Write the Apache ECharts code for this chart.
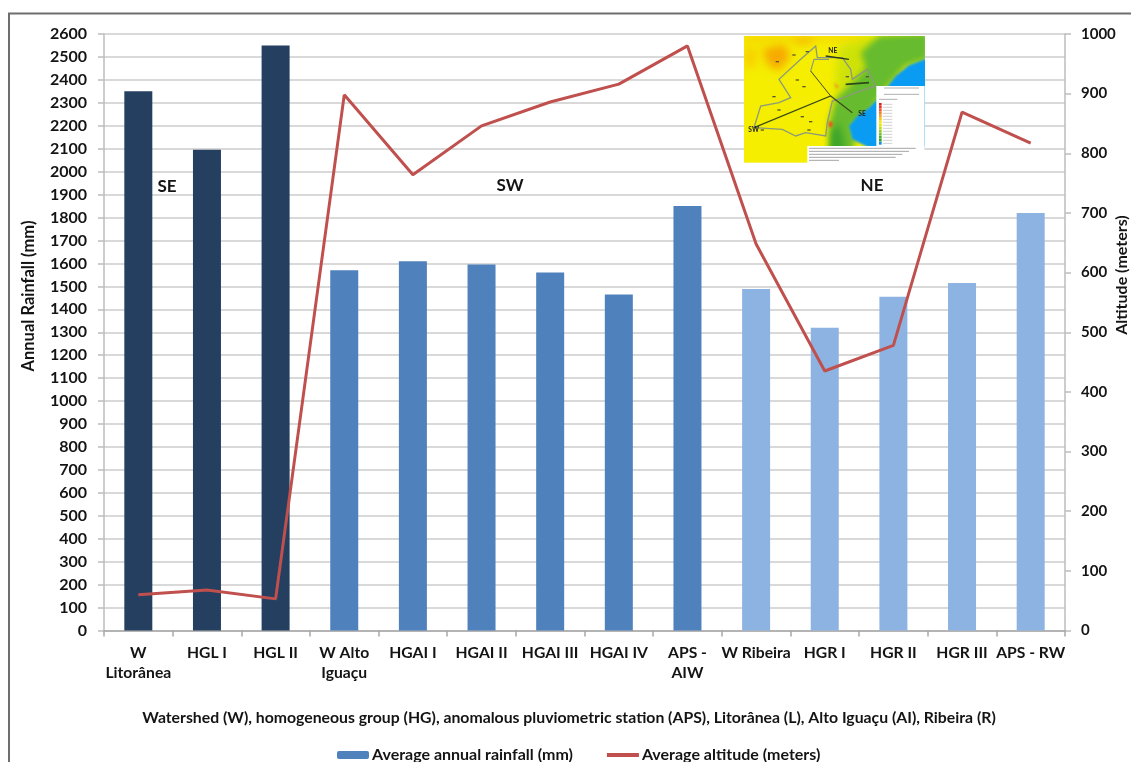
<!DOCTYPE html>
<html><head><meta charset="utf-8">
<style>html,body{margin:0;padding:0;background:#fff}#c{width:1131px;height:762px;filter:blur(0.45px)}</style>
<script src="https://cdn.jsdelivr.net/npm/echarts@6/dist/echarts.min.js"></script>
</head><body><div id="c"></div>
<script>
const categories = ['W\nLitorânea','HGL I','HGL II','W Alto\nIguaçu','HGAI I','HGAI II','HGAI III','HGAI IV','APS -\nAIW','W Ribeira','HGR I','HGR II','HGR III','APS - RW'];
const rainfall = [2350,2095,2550,1570,1610,1595,1560,1465,1850,1488,1320,1455,1515,1820];
const altitude = [60,68,53,898,764,846,886,916,980,648,435,478,869,817];
const barColors = ['#243f60','#243f60','#243f60','#4f81bd','#4f81bd','#4f81bd','#4f81bd','#4f81bd','#4f81bd','#8db3e2','#8db3e2','#8db3e2','#8db3e2','#8db3e2'];
const FONT = 'Lato';
const INK = '#141414';

function poly(ctx, pts, fill){ctx.beginPath();pts.forEach((p,i)=>i?ctx.lineTo(p[0],p[1]):ctx.moveTo(p[0],p[1]));ctx.closePath();ctx.fillStyle=fill;ctx.fill();}
function path(ctx, pts, col, w){ctx.beginPath();pts.forEach((p,i)=>i?ctx.lineTo(p[0],p[1]):ctx.moveTo(p[0],p[1]));ctx.strokeStyle=col;ctx.lineWidth=w;ctx.stroke();}
function buildMap(){
  const cv=document.createElement('canvas');cv.width=181;cv.height=127;
  const c=cv.getContext('2d');
  c.scale(1/3,1/3);c.translate(-45,-30);
  c.fillStyle='#f5ee00';c.fillRect(45,30,540,380);
  c.filter='blur(4px)';
  poly(c,[[45,30],[420,30],[400,45],[200,42],[45,50]],'#f7cf00');
  poly(c,[[100,70],[165,55],[185,90],[150,135],[115,115]],'#f7a800');
  poly(c,[[45,60],[90,70],[80,120],[45,130]],'#f7d000');
  poly(c,[[190,35],[260,35],[240,55],[200,55]],'#f6b800');
  poly(c,[[330,60],[430,30],[470,100],[400,175],[320,200],[320,150]],'#cfe208');
  c.filter='blur(3px)';
  poly(c,[[450,28],[600,20],[600,100],[530,120],[470,190],[420,260],[370,300],[380,350],[345,420],[285,420],[305,360],[300,290],[320,215],[375,165],[410,125],[395,80]],'#66bb2e');
  poly(c,[[300,410],[350,410],[345,350],[330,290],[305,320]],'#3fa52a');
  c.filter='blur(1px)';
  poly(c,[[600,95],[540,118],[500,150],[465,195],[445,220],[420,245],[385,270],[360,300],[370,340],[420,365],[600,365]],'#0a9cf2');
  poly(c,[[300,285],[312,290],[308,305],[298,300]],'#f05020');
  poly(c,[[315,170],[330,180],[322,190]],'#e8a020');
  c.filter='blur(0.5px)';
  path(c,[[75,305],[95,240],[150,230],[185,215],[150,160],[215,100],[260,60],[265,95],[340,95],[365,130],[370,160],[415,130],[440,180],[380,200],[345,215],[310,225],[295,290],[290,330],[230,320],[200,330],[160,310],[75,305]],'#8c9a7c',4);
  path(c,[[245,135],[255,100],[300,100]],'#8c9a7c',3.4);
  path(c,[[75,305],[305,210],[370,260]],'#3c4a1c',3.6);
  path(c,[[245,135],[305,210]],'#3c4a1c',3);
  path(c,[[290,90],[360,100]],'#2c3c18',4);
  path(c,[[350,175],[420,170]],'#2c4a18',5);
  c.filter='none';
  c.fillStyle='#fff';c.fillRect(442,180,145,182);c.fillRect(235,360,352,52);
  c.filter='blur(0.4px)';
  for(let i=0;i<5;i++)path(c,[[240,367+i*9],[i==4?330:560-i*20,367+i*9]],'#777',2);
  path(c,[[465,186],[570,186]],'#888',2);path(c,[[465,205],[570,205]],'#888',2);path(c,[[450,220],[505,220]],'#888',2);
  const sw=['#e02020','#f03030','#f05a20','#f08020','#f4a020','#f6c800','#f6e800','#e0e800','#b8dc18','#90cc20','#70c030','#50b030','#30a030','#1090e0'];
  sw.forEach((s,i)=>{c.fillStyle=s;c.fillRect(450,231+i*9,8,8);path(c,[[462,235+i*9],[490,235+i*9]],'#aaa',1.6);});
  c.fillStyle='#5a5a30';
  [[140,105],[190,85],[230,75],[130,210],[200,160],[220,180],[215,270],[240,285],[145,250],[95,310],[235,310],[350,150],[410,150]].forEach(p=>c.fillRect(p[0],p[1],10,4));
  c.fillStyle='#222';
  c.font='bold 20px '+FONT;c.fillText('SW',58,318);c.fillText('SE',388,270);c.fillText('NE',298,82);
  return cv;
}

const plain = v => String(v);
const txt = (text,x,y,size,rot)=>({type:'text',x,y,z:30,rotation:rot?Math.PI/2:0,style:{text,font:'bold '+size+'px '+FONT,fill:INK,align:'center',verticalAlign:'middle'}});
const chart = echarts.init(document.getElementById('c'),null,{renderer:'canvas'});
chart.setOption({
  animation:false,
  backgroundColor:'#fff',
  grid:{left:104,right:66,top:34,bottom:131.5},
  legend:{
    left:337,top:747,itemWidth:32,itemHeight:8,itemGap:34,padding:0,
    textStyle:{fontFamily:FONT,fontWeight:'bold',fontSize:16,color:INK,padding:[0,0,0,-2]},
    data:[{name:'Average annual rainfall (mm)'},{name:'Average altitude (meters)',icon:'path://M0,44 H100 V56 H0 Z'}]
  },
  xAxis:{type:'category',data:categories,
    axisLine:{lineStyle:{color:'#a8a8a8',width:1.5}},
    axisTick:{show:true,length:6,alignWithLabel:false,lineStyle:{color:'#a8a8a8',width:1.5}},
    axisLabel:{interval:0,margin:12,fontFamily:FONT,fontWeight:'bold',fontSize:15.7,color:INK,lineHeight:20}
  },
  yAxis:[
    {type:'value',min:0,max:2600,interval:100,
      axisLine:{show:true,lineStyle:{color:'#bdbdbd',width:1.5}},
      axisTick:{show:true,length:6,lineStyle:{color:'#bdbdbd',width:1.5}},
      splitLine:{lineStyle:{color:'#cdcdcd',width:1.5}},
      axisLabel:{margin:17,formatter:plain,fontFamily:FONT,fontWeight:'bold',fontSize:16,color:INK}},
    {type:'value',min:0,max:1000,interval:100,position:'right',
      axisLine:{show:true,lineStyle:{color:'#bdbdbd',width:1.5}},
      axisTick:{show:true,length:6,lineStyle:{color:'#bdbdbd',width:1.5}},
      splitLine:{show:false},
      axisLabel:{margin:16,formatter:plain,fontFamily:FONT,fontWeight:'bold',fontSize:15,color:INK}}
  ],
  series:[
    {name:'Average annual rainfall (mm)',type:'bar',barWidth:28,yAxisIndex:0,
      itemStyle:{color:'#4f81bd'},
      data:rainfall.map((v,i)=>({value:v,itemStyle:{color:barColors[i]}}))},
    {name:'Average altitude (meters)',type:'line',yAxisIndex:1,symbol:'none',
      lineStyle:{color:'#c0504d',width:3},itemStyle:{color:'#c0504d'},data:altitude}
  ],
  graphic:[
    {type:'rect',z:1,shape:{x:9,y:13.5,width:1400,height:1400},style:{fill:'none',stroke:'#6e6e6e',lineWidth:2}},
    txt('Annual Rainfall (mm)',29,296,16.5,true),
    txt('Altitude (meters)',1122,275,16,true),
    txt('SE',167,187,17),txt('SW',510,186,17),txt('NE',872,186,17),
    txt('Watershed (W), homogeneous group (HG), anomalous pluviometric station (APS), Litorânea (L), Alto Iguaçu (AI), Ribeira (R)',569,718,15.8),
    {type:'image',z:20,x:744,y:36,style:{image:buildMap(),width:181,height:127}}
  ]
});
</script></body></html>
